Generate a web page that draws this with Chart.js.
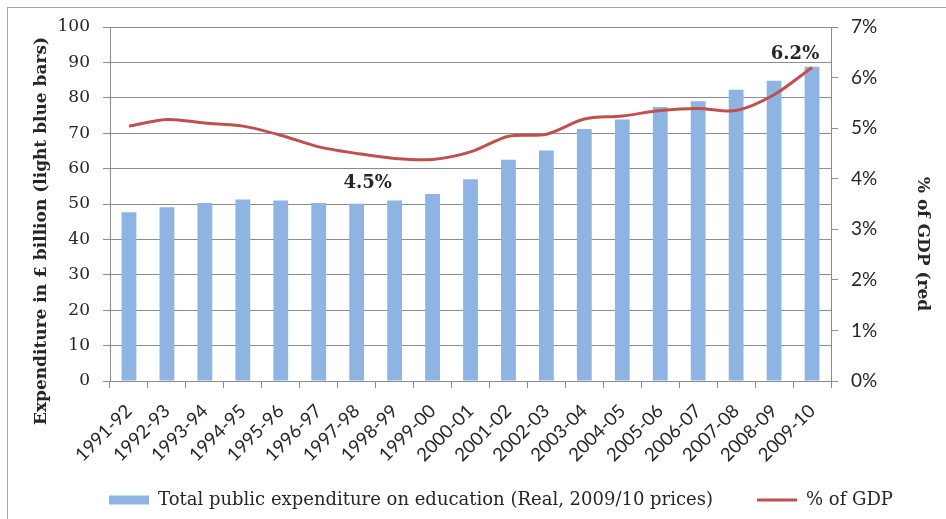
<!DOCTYPE html>
<html>
<head>
<meta charset="utf-8">
<script src="https://cdn.jsdelivr.net/npm/chart.js@4.4.1/dist/chart.umd.min.js"></script>
<style>
  html, body { margin: 0; padding: 0; background: #fff; overflow: hidden; }
  #wrap { position: relative; width: 946px; height: 519px; overflow: hidden; background: #fff; }
  #frame { position: absolute; left: 7px; top: 7px; width: 1100px; height: 600px;
           border: 1.5px solid #a6a6a6; box-sizing: border-box; }
  #chart { position: absolute; left: 0; top: 0; }
</style>
</head>
<body>
<div id="wrap">
  <div id="frame"></div>
  <canvas id="chart" width="1002" height="519"></canvas>
</div>
<script>
// Financial years
const years = ['1991-92', '1992-93', '1993-94', '1994-95', '1995-96', '1996-97', '1997-98',
  '1998-99', '1999-00', '2000-01', '2001-02', '2002-03', '2003-04', '2004-05', '2005-06',
  '2006-07', '2007-08', '2008-09', '2009-10'];

// Total public expenditure on education, £ billion (real, 2009/10 prices)
const spending = [47.7, 49.1, 50.3, 51.3, 51.0, 50.3, 50.1, 51.0, 52.8, 57.0,
  62.5, 65.1, 71.2, 73.9, 77.4, 79.0, 82.3, 84.8, 88.8];

// Education spending as % of GDP
const gdpShare = [5.04, 5.17, 5.10, 5.04, 4.86, 4.63, 4.50, 4.40, 4.38, 4.53,
  4.84, 4.88, 5.18, 5.24, 5.35, 5.39, 5.35, 5.66, 6.20];

// Years whose % of GDP value is annotated on the line
const labelledYears = ['1997-98', '2009-10'];

// Axis tick values
const spendTicks = [0, 10, 20, 30, 40, 50, 60, 70, 80, 90, 100];
const gdpTicks = [0, 1, 2, 3, 4, 5, 6, 7];

const leftTitle = 'Expenditure in £ billion (light blue bars)';
const rightTitle = '% of GDP (red';
const barLegend = 'Total public expenditure on education (Real, 2009/10 prices)';
const lineLegend = '% of GDP';

const SERIF = '"DejaVu Serif", "Liberation Serif", serif';
const SANS = 'Lato, "Open Sans", sans-serif';
const INK = '#262626';
const GRID = '#8c8c8c';

// Value labels on the % of GDP line and the two rotated axis titles
const annotations = {
  id: 'annotations',
  afterDatasetsDraw(chart) {
    const {ctx, chartArea} = chart;
    const meta = chart.getDatasetMeta(1);
    ctx.save();
    ctx.fillStyle = INK;
    ctx.font = 'bold 18px ' + SERIF;
    ctx.textAlign = 'center';
    ctx.textBaseline = 'middle';
    labelledYears.forEach(y => {
      const i = years.indexOf(y);
      const pt = meta.data[i];
      const text = gdpShare[i].toFixed(1) + '%';
      // the last point is labelled above-left, the others below
      if (i === years.length - 1) ctx.fillText(text, pt.x - 17, pt.y - 13);
      else ctx.fillText(text, pt.x + 11, pt.y + 30);
    });

    const midY = (chartArea.top + chartArea.bottom) / 2;
    ctx.font = 'bold 17px ' + SERIF;
    ctx.save();
    ctx.translate(chartArea.left - 68, midY + 27);
    ctx.rotate(-Math.PI / 2);
    ctx.fillText(leftTitle, 0, 0);
    ctx.restore();
    ctx.save();
    ctx.translate(chartArea.right + 91, midY + 40);
    ctx.rotate(Math.PI / 2);
    ctx.fillText(rightTitle, 0, 0);
    ctx.restore();
    ctx.restore();
  }
};

new Chart(document.getElementById('chart'), {
  data: {
    labels: years,
    datasets: [
      {
        type: 'bar',
        label: barLegend,
        data: spending,
        yAxisID: 'y',
        backgroundColor: '#8db4e2',
        borderWidth: 0,
        barPercentage: 0.39,
        categoryPercentage: 1,
        pointStyle: 'rect',
        order: 2
      },
      {
        type: 'line',
        label: lineLegend,
        data: gdpShare,
        yAxisID: 'y1',
        borderColor: '#c0504d',
        backgroundColor: '#c0504d',
        borderWidth: 3,
        pointRadius: 0,
        pointHoverRadius: 0,
        pointStyle: 'line',
        tension: 0.3,
        order: 1
      }
    ]
  },
  options: {
    responsive: false,
    animation: false,
    events: [],
    layout: { padding: { top: 27, bottom: 0, left: 0, right: 0 } },
    plugins: {
      tooltip: { enabled: false },
      legend: {
        position: 'bottom',
        labels: {
          usePointStyle: true,
          pointStyleWidth: 40,
          boxHeight: 9,
          padding: 44,
          color: INK,
          font: { family: SERIF, size: 18 },
          sort: (a, b) => a.datasetIndex - b.datasetIndex
        }
      }
    },
    scales: {
      x: {
        grid: { display: true, drawOnChartArea: false, drawTicks: true, tickLength: 7, color: GRID, offset: true },
        border: { color: GRID, width: 1 },
        ticks: {
          minRotation: 45, maxRotation: 45, autoSkip: false,
          padding: 12, labelOffset: 0,
          color: INK, font: { family: SANS, size: 18.5 }
        },
        afterFit(scale) {
          scale.height = 66;
          // let the rotated year labels run below the axis box
          scale._computeLabelArea = () => undefined;
        }
      },
      y: {
        position: 'left',
        min: 0, max: 100,
        afterBuildTicks(scale) { scale.ticks = spendTicks.map(v => ({ value: v })); },
        grid: { color: GRID, tickLength: 7, lineWidth: 1 },
        border: { color: GRID, width: 1 },
        ticks: { padding: 13, color: INK, font: { family: SERIF, size: 17 } },
        afterFit(scale) { scale.width = 110; }
      },
      y1: {
        position: 'right',
        min: 0, max: 7,
        afterBuildTicks(scale) { scale.ticks = gdpTicks.map(v => ({ value: v })); },
        grid: { drawOnChartArea: false, color: GRID, tickLength: 7 },
        border: { color: GRID, width: 1 },
        ticks: {
          padding: 13, color: INK, font: { family: SANS, size: 19 },
          callback: v => v + '%'
        },
        afterFit(scale) { scale.width = 171; }
      }
    }
  },
  plugins: [annotations]
});
</script>
</body>
</html>
